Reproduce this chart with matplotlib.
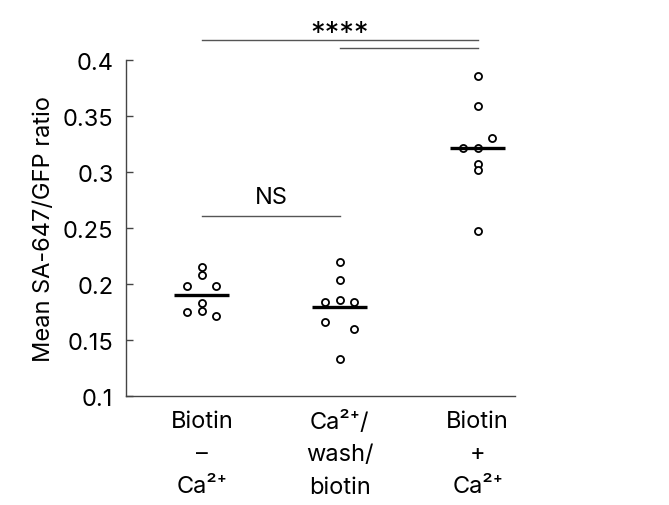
import numpy as np
import matplotlib
matplotlib.use("Agg")
import matplotlib.pyplot as plt

plt.rcParams['font.family'] = ['Inter', 'DejaVu Sans']

# data
groups = ['Biotin\n–\nCa²⁺',
          'Ca²⁺/\nwash/\nbiotin',
          'Biotin\n+\nCa²⁺']
g1 = [0.2149, 0.2080, 0.1979, 0.1980, 0.1830, 0.1753, 0.1762, 0.1717]
g2 = [0.2199, 0.2038, 0.1836, 0.1860, 0.1836, 0.1663, 0.1598, 0.1330]
g3 = [0.3860, 0.3590, 0.3304, 0.3214, 0.3214, 0.3071, 0.3018, 0.2473]
# horizontal jitter of each dot (as drawn)
j1 = [0, 0, -1, 1, 0, -1, 0, 1]
j2 = [0, 0, -1, 0, 1, -1, 1, 0]
j3 = [0, 0, 1, -1, 0, 0, 0, 0]

yticks = [0.1, 0.15, 0.2, 0.25, 0.3, 0.35, 0.4]
ytick_labels = ['0.1', '0.15', '0.2', '0.25', '0.3', '0.35', '0.4']

fig = plt.figure(figsize=(6.69, 5.06), dpi=100)
ax = fig.add_axes([0.1883, 0.2154, 0.5815, 0.6640])

dx = 0.105
for i, (vals, jit) in enumerate(zip([g1, g2, g3], [j1, j2, j3])):
    pos = i + 1
    xs = pos + np.array(jit) * dx
    ax.scatter(xs, vals, s=26, facecolors='white', edgecolors='black',
               linewidths=1.3, zorder=3)
    m = np.mean(vals)
    ax.plot([pos - 0.2, pos + 0.2], [m, m], color='black', lw=2.4,
            solid_capstyle='butt', zorder=4)

ax.set_xlim(0.45, 3.27)
ax.set_ylim(0.1, 0.4)
ax.set_yticks(yticks)
ax.set_yticklabels(ytick_labels)
ax.set_xticks([1, 2, 3])
ax.set_xticklabels(groups, linespacing=1.62, va='top')

for s in ['top', 'right']:
    ax.spines[s].set_visible(False)
for s in ['left', 'bottom']:
    ax.spines[s].set_color('#444444')
    ax.spines[s].set_linewidth(1.0)

fs = 17
ax.tick_params(axis='y', direction='in', length=5, width=1.0, color='#444444',
               labelsize=fs, pad=9)
ax.tick_params(axis='x', length=0, labelsize=fs, pad=10)
ax.set_ylabel('Mean SA-647/GFP ratio', fontsize=fs, labelpad=6)

# significance brackets
lc = '#555555'
ax.plot([1, 2], [0.2604, 0.2604], color=lc, lw=1.0, clip_on=False)
ax.text(1.5, 0.2680, 'NS', ha='center', va='bottom', fontsize=fs)
ax.plot([1, 3], [0.4179, 0.4179], color=lc, lw=1.0, clip_on=False)
ax.plot([2, 3], [0.4104, 0.4104], color=lc, lw=1.0, clip_on=False)
ax.text(2.0, 0.4118, '****', ha='center', va='bottom', fontsize=21)

fig.savefig('out.png', dpi=100)
